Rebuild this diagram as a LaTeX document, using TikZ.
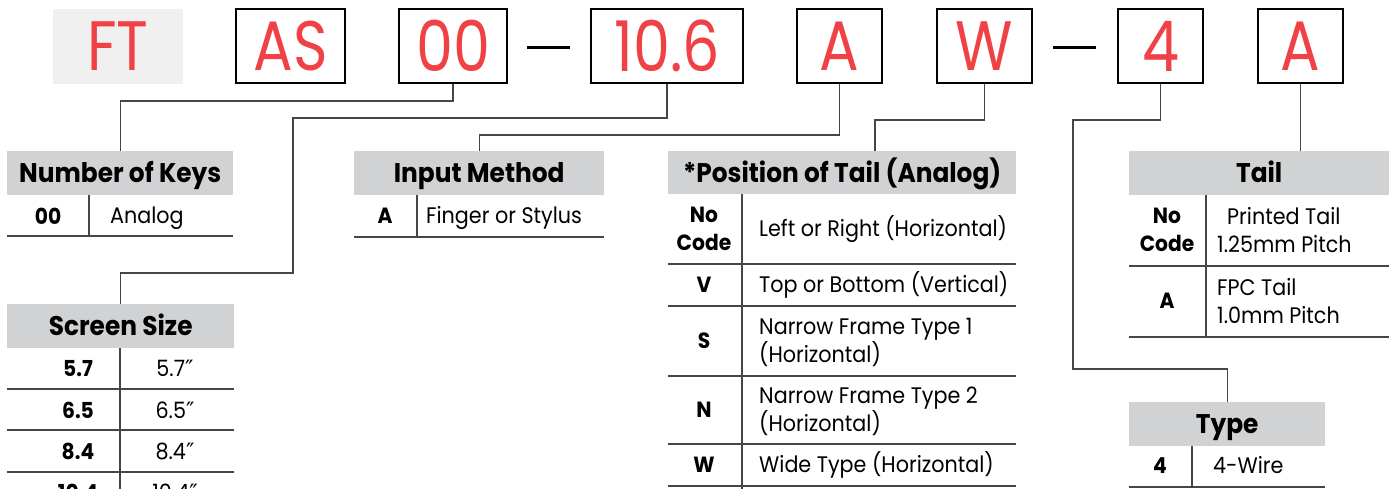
\documentclass[tikz,border=0pt]{standalone}
\usepackage{fontspec}
\setmainfont{Poppins}[FakeStretch=0.92]
\newfontfamily\codefont{Poppins}[FakeStretch=0.84]
\newfontfamily\primefont{DejaVu Sans}
\usetikzlibrary{positioning}

\definecolor{codered}{RGB}{240,65,70}
\definecolor{headgray}{RGB}{209,210,212}
\definecolor{ftgray}{RGB}{240,240,240}
\definecolor{linegray}{RGB}{70,70,70}

\tikzset{
  codebox/.style={draw=black, line width=2pt, minimum height=74pt, inner sep=0pt,
    text=codered, font=\codefont\fontsize{70}{70}\selectfont},
  header/.style={fill=headgray, anchor=north west, minimum height=44pt, inner sep=0pt,
    text height=19pt, text depth=0pt, font=\bfseries\fontsize{27}{27}\selectfont},
  keycell/.style={font=\bfseries\fontsize{22}{28}\selectfont, align=center, inner sep=0pt},
  desccell/.style={anchor=west, font=\fontsize{22.5}{28}\selectfont, align=left, inner sep=0pt},
  oneline/.style={text height=15.5pt, text depth=0pt},
  sizecell/.style={font=\fontsize{22.5}{28}\selectfont, inner sep=0pt},
  rule/.style={draw=linegray, line width=1.5pt},
  wire/.style={draw=linegray, line width=1.2pt},
}

\begin{document}
\begin{tikzpicture}[x=1pt, y=-1pt]
  \useasboundingbox (0,0) rectangle (1397,488);
  \clip (0,0) rectangle (1397,488);

  % Part number
  \node[fill=ftgray, minimum width=130pt, minimum height=75pt, inner sep=0pt,
        text=codered, font=\codefont\fontsize{70}{70}\selectfont] (ft) at (118,46.5) {FT};
  \node[codebox, minimum width=109pt] (bAS)   at (290.5,46) {AS};
  \node[codebox, minimum width=108pt] (b00)   at (453,46)   {00};
  \node[codebox, minimum width=152pt] (b106)  at (667,46)   {10.6};
  \node[codebox, minimum width=85pt]  (bin)   at (839.5,46) {A};
  \node[codebox, minimum width=95pt]  (bpos)  at (984.5,46) {W};
  \node[codebox, minimum width=85pt]  (btype) at (1160.5,46) {4};
  \node[codebox, minimum width=85pt]  (btail) at (1300.5,46) {A};
  \draw[line width=3pt] (527,47) -- (570,47);
  \draw[line width=3pt] (1053,47) -- (1096,47);

  % Number of keys
  \node[header, minimum width=226pt] (nkhead) at (7,151) {Number of Keys};
  \node[keycell]  (nkkey)  at (48,216)  {00};
  \node[desccell, oneline] (nkdesc) at (110,216) {Analog};
  \draw[rule] (89,195) -- (89,236);
  \draw[rule] (7,236) -- (233,236);

  % Screen size
  \node[header, minimum width=227pt] (sshead) at (7,304) {Screen Size};
  \draw[rule] (120,348) -- (120,500);
  \foreach \y in {389,430,472}
    \draw[rule] (7,\y) -- (234,\y);
  \foreach \k [count=\i] in {5.7,6.5,8.4,10.4} {
    \node[keycell]  (sskey\i) at (78,327.5+41.3*\i)  {\k};
    \node[sizecell] (ssval\i) at (175,327.5+41.3*\i) {\k{\primefont\char"2033}};
  }

  % Input method
  \node[header, minimum width=250pt] (imhead) at (354,151) {Input Method};
  \node[keycell]  (imkey)  at (385,216) {A};
  \node[desccell, oneline] (imdesc) at (426,216) {Finger or Stylus};
  \draw[rule] (417,195) -- (417,237);
  \draw[rule] (354,237) -- (604,237);

  % Position of tail
  \node[header, minimum width=348pt, minimum height=43pt] (pthead) at (668,151) {*Position of Tail (Analog)};
  \draw[rule] (742,194) -- (742,500);
  \foreach \y in {264,306,376,444,486}
    \draw[rule] (668,\y) -- (1016,\y);
  \node[keycell]  (ptkey1)  at (704,229) {No\\Code};
  \node[desccell, oneline] (ptdesc1) at (759,229) {Left or Right (Horizontal)};
  \node[keycell]  (ptkey2)  at (704,285) {V};
  \node[desccell, oneline] (ptdesc2) at (759,285) {Top or Bottom (Vertical)};
  \node[keycell]  (ptkey3)  at (704,341) {S};
  \node[desccell] (ptdesc3) at (759,342) {Narrow Frame Type 1\\(Horizontal)};
  \node[keycell]  (ptkey4)  at (704,410) {N};
  \node[desccell] (ptdesc4) at (759,411) {Narrow Frame Type 2\\(Horizontal)};
  \node[keycell]  (ptkey5)  at (704,465) {W};
  \node[desccell, oneline] (ptdesc5) at (759,465) {Wide Type (Horizontal)};

  % Tail
  \node[header, minimum width=260pt] (tlhead) at (1129,151) {Tail};
  \draw[rule] (1206,195) -- (1206,337);
  \foreach \y in {266,337}
    \draw[rule] (1129,\y) -- (1389,\y);
  \node[keycell]  (tlkey1)  at (1167,230)  {No\\Code};
  \node[desccell] (tldesc1) at (1217,230)  {\hspace*{10pt}Printed Tail\\1.25mm Pitch};
  \node[keycell]  (tlkey2)  at (1167,301)  {A};
  \node[desccell] (tldesc2) at (1217,301)  {FPC Tail\\1.0mm Pitch};

  % Type
  \node[header, minimum width=196pt] (tyhead) at (1129,402) {Type};
  \node[keycell]  (tykey)  at (1160,466) {4};
  \node[desccell, oneline] (tydesc) at (1213,466) {4-Wire};
  \draw[rule] (1192,446) -- (1192,487);
  \draw[rule] (1129,487) -- (1325,487);

  % Connect the code boxes to their tables
  \coordinate (sscorner) at (293,273);
  \coordinate (ptin)     at (875,151);
  \coordinate (tycorner) at (1073,369);
  \draw[wire] (b00.south)   -- ++(0,17) -| (nkhead.north);
  \draw[wire] (b106.south)  -- ++(0,34) -| (sscorner) -| (sshead.north);
  \draw[wire] (bin.south)   -- ++(0,51) -| (imhead.north);
  \draw[wire] (bpos.south)  -- ++(0,36) -| (ptin);
  \draw[wire] (btype.south) -- ++(0,36) -| (tycorner) -| (tyhead.north);
  \draw[wire] (btail.south) -- (btail.south |- tlhead.north);

\end{tikzpicture}
\end{document}
